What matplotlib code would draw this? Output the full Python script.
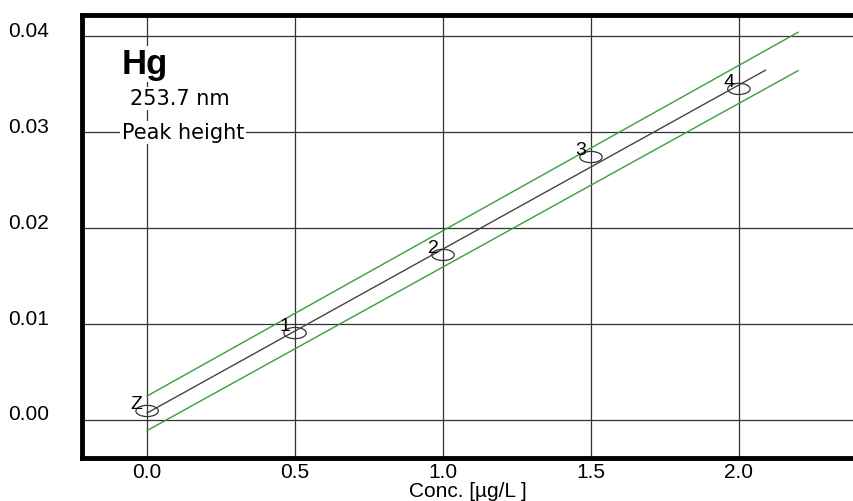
import numpy as np
import matplotlib.pyplot as plt
from matplotlib.path import Path
from matplotlib.transforms import ScaledTranslation

plt.rcParams['font.family'] = ['Liberation Sans', 'DejaVu Sans']

# calibration standards
conc = [0.0, 0.5, 1.0, 1.5, 2.0]
absorb = [0.00094, 0.00906, 0.0172, 0.0274, 0.0345]
labels = ['Z', '1', '2', '3', '4']

# confidence band end points (x, upper, lower)
band_x = [0.0, 2.2]
band_upper = [0.0025, 0.0404]
band_lower = [-0.0011, 0.0364]
fit_x_end = 2.09

xticks = [0.0, 0.5, 1.0, 1.5, 2.0]
yticks = [0.00, 0.01, 0.02, 0.03, 0.04]

fig = plt.figure(figsize=(8.54, 5.02), dpi=100)
ax = fig.add_axes([82/854, 43/502, 1 - 82/854, 443/502])

# regression line
k, b = np.polyfit(conc, absorb, 1)
fx = np.array([0.0, fit_x_end])
ax.plot(fx, k*fx + b, color='#444444', lw=1.0, zorder=3)

ax.plot(band_x, band_upper, color='#3c9c3c', lw=1.0, zorder=3)
ax.plot(band_x, band_lower, color='#3c9c3c', lw=1.0, zorder=3)

# flat ellipse marker
circ = Path.unit_circle()
ell = Path(circ.vertices * [1.0, 0.5], circ.codes)
ax.scatter(conc, absorb, s=260, marker=ell, facecolors='none',
           edgecolors='#333333', linewidths=0.9, zorder=4)
for x, y, t in zip(conc, absorb, labels):
    ax.text(x - 0.015, y - 0.0001, t, fontsize=14, ha='right', va='bottom', zorder=5)

ax.set_xlim(-0.22, 2.389)
ax.set_ylim(-0.00396, 0.0422)
ax.set_xticks(xticks)
ax.set_yticks(yticks)
ax.set_xticklabels([f'{v:.1f}' for v in xticks], fontsize=15)
ax.set_yticklabels([f'{v:.2f}' for v in yticks], fontsize=15)
ax.tick_params(length=0)
ax.tick_params(axis='y', pad=24)
ax.tick_params(axis='x', pad=3)
off = ScaledTranslation(0, 8/100, fig.dpi_scale_trans)
for lab in ax.get_yticklabels():
    lab.set_transform(lab.get_transform() + off)
ax.grid(True, color='#333333', lw=0.9)
ax.set_axisbelow(True)

for s in ['left', 'bottom', 'top']:
    ax.spines[s].set_linewidth(3.5)
ax.spines['right'].set_visible(False)

box = dict(facecolor='white', edgecolor='none', pad=1)
ax.text(-0.085, 0.0371, 'Hg', fontsize=25, fontweight='bold', ha='left', va='center', bbox=box)
ax.text(-0.058, 0.0335, '253.7 nm', fontsize=15, family=['DejaVu Sans'], ha='left', va='center', bbox=box)
ax.text(-0.085, 0.0300, 'Peak height', fontsize=15, family=['DejaVu Sans'], ha='left', va='center', bbox=box)

ax.set_xlabel('Conc. [µg/L ]', fontsize=15, labelpad=0)

fig.savefig('out.png', dpi=100)
